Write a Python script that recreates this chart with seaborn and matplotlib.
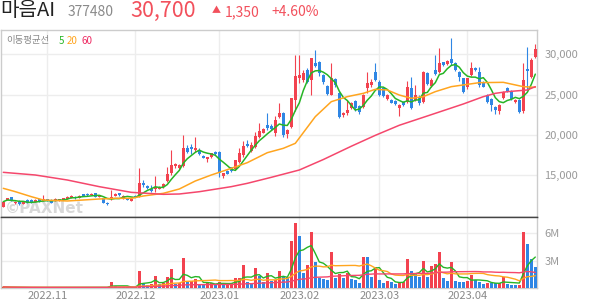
import numpy as np
import pandas as pd
import matplotlib
matplotlib.use("Agg")
import matplotlib.pyplot as plt
import seaborn as sns

sns.set_style("white")
plt.rcParams['font.family'] = ['Noto Sans CJK KR', 'DejaVu Sans']

# ---------------- data ----------------
start_date = "2022-10-17"
end_date = "2023-04-26"
holidays = ["2022-12-30", "2023-01-23", "2023-01-24", "2023-03-01"]

open_ = [11107, 11934, 12264, 11520, 11810, 11437, 11934, 11934, 11727, 12016,
         11851, 12058, 11934, 11851, 11851, 11934, 12099, 12223, 12347, 12223,
         12636, 12719, 12512, 12760, 12347, 12140, 11603, 12016, 12430, 12760,
         12140, 12140, 11851, 12430, 12348, 14084, 13710, 13340, 13340, 13340,
         13505, 14332, 15241, 16150, 15861, 16150, 18340, 18464, 18134, 18051,
         17431, 17059, 17225, 17927, 17927, 14910, 15500, 15985, 15737, 16687,
         17514, 18878, 18051, 18464, 19787, 20283, 21234, 21151, 20201, 22184,
         22763, 20118, 21028, 24334, 27103, 26813, 28053, 26813, 28880, 29087,
         27433, 26070, 24954, 26937, 25160, 22474, 22680, 23300, 24210, 23590,
         23507, 25780, 26194, 27847, 26607, 25780, 24458, 24334, 24210, 23300,
         24127, 24127, 25780, 24334, 24747, 24127, 27640, 26111, 28053, 27847,
         29004, 28797, 29417, 28880, 27764, 27020, 25987, 27433, 28260, 27764,
         26607, 24954, 24458, 23507, 22970, 24540, 25780, 25490, 24127, 24334,
         23011, 28200, 27227, 29707]
high = [11800, 12200, 12350, 11800, 11900, 11800, 12000, 12000, 12000, 12100,
        12553, 12100, 12000, 12150, 12100, 12200, 12400, 12500, 12400, 12500,
        12700, 12760, 12760, 12800, 12600, 12200, 11650, 13173, 12750, 12800,
        12500, 12200, 12100, 12500, 15861, 14414, 13800, 13795, 14910, 13650,
        14000, 15985, 18134, 16480, 16350, 19994, 18754, 18878, 19705, 18340,
        17500, 17307, 17800, 18000, 18000, 15324, 15700, 16050, 16950, 18340,
        19291, 19374, 19167, 20407, 21523, 20800, 22680, 21317, 22350, 23920,
        22850, 20700, 24600, 29900, 29913, 28000, 28300, 29600, 30533, 29200,
        27500, 26200, 28880, 27000, 25300, 22900, 24334, 24100, 24300, 23700,
        25100, 27847, 26900, 28880, 26800, 25900, 25100, 24400, 24300, 23800,
        24200, 26730, 27227, 26194, 24900, 27900, 27800, 27000, 29913, 30740,
        29100, 29300, 31980, 29000, 27900, 27100, 27100, 29087, 28400, 28400,
        26700, 25100, 24600, 23600, 23800, 25450, 25900, 25600, 24400, 24500,
        28880, 30870, 29600, 31300]
low = [11050, 11900, 11750, 11450, 11350, 11400, 11550, 11600, 11700, 11700,
       11800, 11750, 11550, 11800, 11800, 11900, 12050, 12200, 12100, 12200,
       12400, 12450, 12500, 12300, 12300, 11550, 11350, 11950, 12400, 12450,
       12100, 11900, 11800, 12250, 12300, 13588, 13350, 12968, 12968, 13300,
       13450, 14208, 15034, 15861, 15800, 16067, 17721, 17638, 17927, 17514,
       17100, 16687, 17150, 17550, 14828, 14703, 15100, 15400, 15700, 16563,
       17307, 18464, 17927, 18340, 19580, 20200, 20614, 20614, 19870, 22100,
       19700, 19600, 20900, 23000, 26500, 26600, 26400, 24954, 28400, 27300,
       26300, 24900, 24900, 26000, 22100, 22200, 22500, 23200, 23000, 22600,
       23400, 25160, 26000, 26700, 24800, 24700, 24300, 23900, 23700, 22350,
       23600, 24000, 23200, 24200, 23700, 24000, 26200, 26000, 27400, 27700,
       28500, 28700, 28700, 27900, 26700, 25200, 25700, 27300, 27900, 26000,
       25900, 24000, 23000, 22600, 22600, 24400, 25300, 24300, 24000, 22700,
       22680, 25500, 27100, 29600]
close = [11727, 12140, 11810, 11727, 11437, 11727, 11603, 11686, 11934, 11768,
         12058, 11810, 11603, 12099, 12016, 12140, 12347, 12430, 12140, 12430,
         12430, 12512, 12719, 12347, 12553, 11603, 11396, 12347, 12677, 12512,
         12430, 11934, 12016, 12300, 13998, 13835, 13422, 13091, 13505, 13588,
         13918, 15158, 16274, 16398, 16274, 18382, 17927, 18217, 18423, 17638,
         17183, 17225, 17721, 17638, 15241, 15241, 15150, 15489, 16894, 17721,
         18630, 18630, 18754, 19870, 20531, 20697, 20820, 20738, 21854, 22680,
         19994, 20614, 24540, 27310, 27433, 27640, 26607, 29500, 28549, 27640,
         26607, 25036, 27020, 26194, 22267, 22763, 23094, 24003, 23300, 22887,
         24954, 26400, 26607, 26813, 24954, 24871, 24954, 24003, 23837, 23714,
         23714, 25904, 23300, 24954, 23920, 27847, 26318, 26813, 27516, 28880,
         28673, 29170, 28880, 28053, 27227, 25284, 27020, 28260, 28053, 26194,
         25987, 24127, 23714, 23094, 23714, 25367, 25490, 24417, 24334, 22887,
         26813, 27950, 29350, 30700]
volume_m = [0.12, 0.08, 0.07, 0.06, 0.08, 0.06, 0.05, 0.05, 0.06, 0.05,
            0.09, 0.06, 0.05, 0.06, 0.05, 0.06, 0.08, 0.07, 0.05, 0.06,
            0.07, 0.06, 0.05, 0.07, 0.06, 0.10, 0.08, 0.70, 0.20, 0.10,
            0.08, 0.07, 0.06, 0.08, 1.87, 0.44, 0.33, 0.40, 1.32, 0.44,
            0.51, 1.21, 2.09, 0.40, 0.51, 3.29, 0.62, 0.80, 1.02, 0.33,
            0.32, 0.51, 0.59, 0.40, 0.70, 0.33, 0.44, 0.59, 1.10, 1.13,
            2.52, 0.70, 0.51, 2.20, 1.35, 0.70, 1.68, 0.80, 0.88, 1.87,
            1.17, 1.15, 5.16, 7.13, 5.74, 1.68, 2.56, 6.11, 2.85, 1.06,
            0.99, 0.88, 3.95, 1.06, 1.54, 1.06, 1.61, 0.95, 0.88, 0.59,
            3.37, 3.35, 1.24, 2.34, 0.88, 0.59, 0.80, 0.66, 0.44, 0.51,
            0.70, 3.15, 1.87, 1.54, 1.17, 2.96, 1.24, 2.45, 2.63, 3.95,
            1.06, 0.80, 2.85, 0.73, 0.66, 0.65, 0.80, 1.43, 0.88, 0.62,
            0.44, 0.59, 0.51, 0.50, 0.52, 1.17, 0.44, 0.37, 0.36, 0.37,
            6.18, 4.83, 3.22, 2.34]

# moving-average knots (index, value)
ma20_idx = [0, 3, 7, 10, 16, 20, 24, 28, 32, 35, 40, 44, 48, 52, 57, 61, 66,
            70, 73, 78, 82, 86, 90, 93, 96, 99, 102, 105, 108, 112, 119, 125, 130, 133]
ma20_val = [13380, 12967, 12347, 11933, 11810, 11933, 12058, 12140, 12140, 12430,
            12761, 13298, 14290, 15034, 15861, 16563, 17800, 18340, 18960, 22267,
            24127, 24747, 25160, 25656, 25573, 24950, 24540, 24747, 25367, 25987,
            26483, 26524, 25987, 25904]
ma60_idx = [0, 8, 16, 24, 32, 40, 44, 49, 57, 61, 67, 74, 80, 87, 93, 99, 106,
            115, 120, 123, 126, 131, 133]
ma60_val = [15364, 15033, 14413, 13587, 12884, 12637, 12678, 12962, 13588, 14000,
            14745, 15653, 16950, 18600, 19950, 21200, 22350, 23838, 24747, 25160,
            25367, 25574, 25987]

price_ticks = [15000, 20000, 25000, 30000]
vol_ticks = [3e6, 6e6]
vol_tick_labels = ["3M", "6M"]

# ---------------- styling ----------------
RED = "#f2424f"
BLUE = "#2f86e4"
GREEN = "#26b526"
ORANGE = "#ffa51f"
PINK = "#f5476c"
GRID = "#ededed"
BORDER = "#cccccc"
TICKC = "#999999"

W, H = 594, 304
fig = plt.figure(figsize=(W / 100, H / 100), dpi=100)


def rect(x0, y0, x1, y1):
    return [x0 / W, 1 - y1 / H, (x1 - x0) / W, (y1 - y0) / H]


axp = fig.add_axes(rect(1, 30, 537.3, 217.3))
axv = fig.add_axes(rect(1, 217.3, 537.3, 288), sharex=axp)

dates = pd.bdate_range(start_date, end_date)
dates = dates[~dates.isin(pd.to_datetime(holidays))]
n = len(dates)
x = np.arange(n)

o = np.array(open_, float)
h = np.array(high, float)
l = np.array(low, float)
c = np.array(close, float)
v = np.array(volume_m) * 1e6

up = c >= o
col = np.where(up, RED, BLUE)
body_lo = np.minimum(o, c)
body_h = np.maximum(np.abs(c - o), 70)

axp.vlines(x, l, h, colors=col, lw=0.8, zorder=2)
axp.bar(x, body_h, bottom=body_lo, width=0.72, color=col, linewidth=0, zorder=3)

ma5 = pd.Series(c).rolling(5, min_periods=1).mean()
sns.lineplot(x=x, y=ma5.values, ax=axp, color=GREEN, lw=1.1, legend=False, zorder=5)
sns.lineplot(x=ma20_idx, y=ma20_val, ax=axp, color=ORANGE, lw=1.1, legend=False, zorder=5)
sns.lineplot(x=ma60_idx, y=ma60_val, ax=axp, color=PINK, lw=1.1, legend=False, zorder=5)

# volume
vup = np.r_[True, v[1:] >= v[:-1]]
vcol = np.where(vup, RED, BLUE)
axv.bar(x, v, width=0.72, color=vcol, linewidth=0, zorder=3)
vs = pd.Series(v)
sns.lineplot(x=x, y=vs.rolling(5, min_periods=1).mean().values, ax=axv, color=GREEN, lw=1.0, legend=False, zorder=5)
sns.lineplot(x=x, y=vs.rolling(20, min_periods=1).mean().values, ax=axv, color=ORANGE, lw=1.0, legend=False, zorder=5)
sns.lineplot(x=x, y=vs.rolling(60, min_periods=1).mean().values, ax=axv, color=PINK, lw=1.0, legend=False, zorder=5)

# axes limits
axp.set_xlim(-0.575, 133.5)
axp.set_ylim(9788, 33013)
axv.set_ylim(0, 7.74e6)

# month ticks
month = dates.to_period("M")
starts = [i for i in range(1, n) if month[i] != month[i - 1]]
labels = [dates[i].strftime("%Y.%m") for i in starts]
axv.set_xticks(starts)
axv.set_xticklabels(labels)

axp.yaxis.tick_right()
axp.set_yticks(price_ticks)
axp.set_yticklabels([f"{t:,}" for t in price_ticks])
axv.yaxis.tick_right()
axv.set_yticks(vol_ticks)
axv.set_yticklabels(vol_tick_labels)

for ax in (axp, axv):
    ax.grid(True, color=GRID, lw=1, zorder=0)
    ax.set_axisbelow(True)
    ax.tick_params(axis="y", length=0, pad=5, labelsize=8, labelcolor=TICKC)
    ax.set_xlabel("")
    ax.set_ylabel("")
    for s in ax.spines.values():
        s.set_color(BORDER)
        s.set_linewidth(1)
axp.tick_params(axis="x", length=0, labelbottom=False)
axv.tick_params(axis="x", length=0, pad=2, labelsize=8, labelcolor="#8a8a8a")
axp.spines["bottom"].set_color("#444444")
axv.spines["top"].set_color("#444444")

# watermark
axp.text(0.008, 0.025, "©PAXNet", transform=axp.transAxes, fontsize=11,
         fontweight="bold", color="#d2d2d2", alpha=0.85, zorder=1,
         family=["DejaVu Sans"])

# legend text
ly = 1 - 41 / H
fig.text(6 / W, ly, "이동평균선", fontsize=6.8, color="#8a8a8a", va="center")
fig.text(59 / W, ly, "5", fontsize=7, color=GREEN, va="center")
fig.text(67 / W, ly, "20", fontsize=7, color=ORANGE, va="center")
fig.text(82 / W, ly, "60", fontsize=7, color="#ee2a62", va="center")

# title
by = 1 - 16.5 / H
fig.text(0, by, "마음AI", fontsize=14.5, color="#222222", va="baseline")
fig.text(68 / W, by, "377480", fontsize=10, color="#8a8a8a", va="baseline")
fig.text(130 / W, by, "30,700", fontsize=15.5, color="#f2505c", va="baseline")
fig.text(212 / W, by + 0.012, "▲", fontsize=6.5, color="#f2505c", va="baseline")
fig.text(225 / W, by, "1,350", fontsize=10, color="#f2505c", va="baseline")
fig.text(271 / W, by, "+4.60%", fontsize=10, color="#f2505c", va="baseline")

fig.savefig("out.png", dpi=100)
